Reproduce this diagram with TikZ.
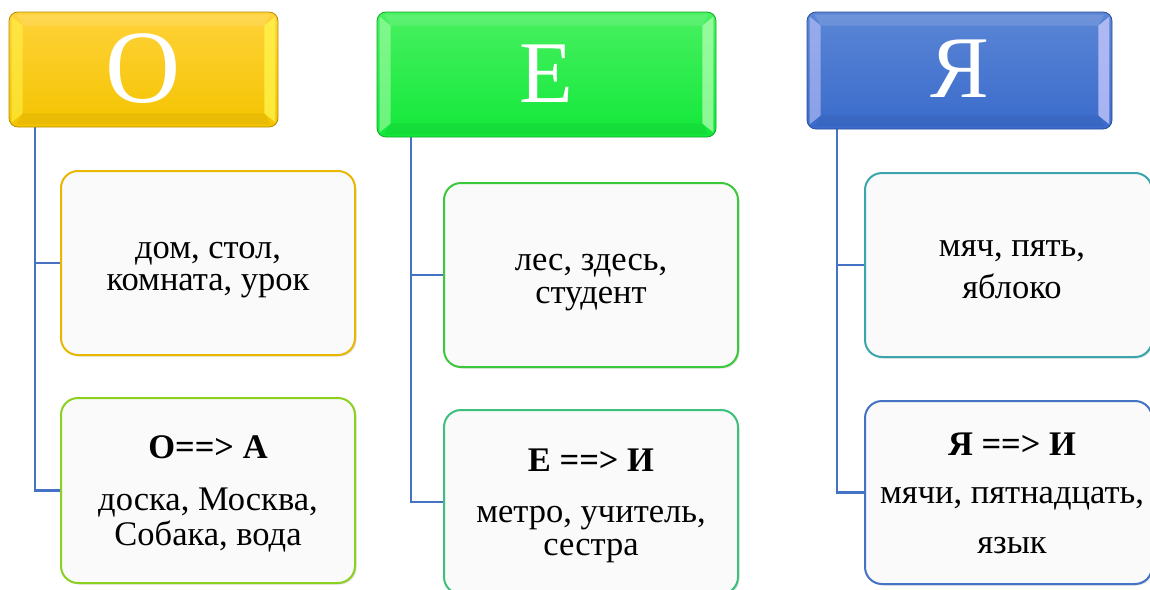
\documentclass[tikz,border=0pt]{standalone}
\usepackage{fontspec}
\setmainfont{Liberation Serif}
\usetikzlibrary{shadows}
\definecolor{linkblue}{HTML}{4472C4}
\definecolor{goldtop}{HTML}{FFD23A}
\definecolor{goldbot}{HTML}{F4C400}
\definecolor{goldline}{HTML}{B88E00}
\definecolor{greentop}{HTML}{48F060}
\definecolor{greenbot}{HTML}{12E83A}
\definecolor{greenline}{HTML}{10A82A}
\definecolor{bluetop}{HTML}{5B86D6}
\definecolor{bluebot}{HTML}{3A6BCB}
\definecolor{blueline}{HTML}{2A4F98}
\definecolor{bOa}{HTML}{E8B800}
\definecolor{bOb}{HTML}{8CD020}
\definecolor{bEa}{HTML}{3CC83C}
\definecolor{bEb}{HTML}{3CC07C}
\definecolor{bYa}{HTML}{3AA6AC}
\definecolor{bYb}{HTML}{4472C4}
\tikzset{
  hdr/.style={draw=#1, line width=0.8pt, rounded corners=9pt, inner sep=0pt, text=white},
  child/.style={draw=#1, line width=2pt, rounded corners=17pt, fill=white!98!black, inner sep=0pt,
    drop shadow={shadow xshift=1.5pt, shadow yshift=-1.5pt, opacity=0.25}},
  conn/.style={draw=linkblue, line width=2.6pt},
  ln/.style={anchor=base, inner sep=0pt, font=\fontsize{34.5}{40}\selectfont},
  lnb/.style={anchor=base, inner sep=0pt, font=\fontsize{34.5}{40}\selectfont\bfseries},
}
\newcommand{\bevel}[3]{%
  \fill[#2, opacity=0.55] ([xshift=3pt,yshift=-5pt]#1.north west) -- ([xshift=14pt,yshift=-14pt]#1.north west) -- ([xshift=14pt,yshift=14pt]#1.south west) -- ([xshift=3pt,yshift=5pt]#1.south west) -- cycle;
  \fill[#2, opacity=0.75] ([xshift=-3pt,yshift=-5pt]#1.north east) -- ([xshift=-14pt,yshift=-14pt]#1.north east) -- ([xshift=-14pt,yshift=14pt]#1.south east) -- ([xshift=-3pt,yshift=5pt]#1.south east) -- cycle;
  \fill[white, opacity=0.12] ([xshift=8pt,yshift=-3pt]#1.north west) -- ([xshift=-8pt,yshift=-3pt]#1.north east) -- ([xshift=-14pt,yshift=-14pt]#1.north east) -- ([xshift=14pt,yshift=-14pt]#1.north west) -- cycle;
  \fill[#3, opacity=0.18] ([xshift=8pt,yshift=3pt]#1.south west) -- ([xshift=-8pt,yshift=3pt]#1.south east) -- ([xshift=-14pt,yshift=14pt]#1.south east) -- ([xshift=14pt,yshift=14pt]#1.south west) -- cycle;
}
\begin{document}
\begin{tikzpicture}[x=1pt,y=-1pt]
\useasboundingbox (0,0) rectangle (1150,589);
\clip (0,0) rectangle (1150,589);
\fill[white] (0,0) rectangle (1150,589);

\coordinate (ot) at (35,127);
\coordinate (et) at (411,137);
\coordinate (yt) at (837,129);

% child boxes
\node[child=bOa, minimum width=294pt, minimum height=184pt] (o1) at (208,263) {};
\node[child=bOb, minimum width=294pt, minimum height=185pt] (o2) at (208,490.5) {};
\node[child=bEa, minimum width=294pt, minimum height=184pt] (e1) at (591,275) {};
\node[child=bEb, minimum width=294pt, minimum height=184pt] (e2) at (591,502) {};
\node[child=bYa, minimum width=287pt, minimum height=184pt] (y1) at (1008.5,265) {};
\node[child=bYb, minimum width=287pt, minimum height=183pt] (y2) at (1008.5,492.5) {};

\draw[conn] (ot) |- (o1.west);
\draw[conn] (ot) |- (o2.west);
\draw[conn] (et) |- (e1.west);
\draw[conn] (et) |- (e2.west);
\draw[conn] (yt) |- (y1.west);
\draw[conn] (yt) |- (y2.west);

% headers
\node[hdr=goldline, top color=goldtop, bottom color=goldbot, minimum width=269pt, minimum height=115pt] (ho) at (143.5,69.5) {};
\bevel{ho}{yellow!70!white}{goldline}
\node[text=white, inner sep=0pt, anchor=base, font=\fontsize{104}{104}\selectfont] (hot) at (143.5,102) {O};

\node[hdr=greenline, top color=greentop, bottom color=greenbot, minimum width=339pt, minimum height=125pt] (he) at (546.5,74.5) {};
\bevel{he}{green!30!white}{greenline}
\node[text=white, inner sep=0pt, anchor=base, font=\fontsize{88}{88}\selectfont] (het) at (546.5,102) {Е};

\node[hdr=blueline, top color=bluetop, bottom color=bluebot, minimum width=305pt, minimum height=117pt] (hy) at (959.5,70.5) {};
\bevel{hy}{blue!20!white}{blueline}
\node[text=white, inner sep=0pt, anchor=base, font=\fontsize{88}{88}\selectfont] (hyt) at (959.5,97) {Я};

% texts
\node[ln] (o1a) at (208,258) {дом, стол,};
\node[ln] (o1b) at (208,290) {комната, урок};
\node[lnb] (o2a) at (208,458) {О==> А};
\node[ln] (o2b) at (208,510) {доска, Москва,};
\node[ln] (o2c) at (208,545) {Собака, вода};

\node[ln] (e1a) at (591,270) {лес, здесь,};
\node[ln] (e1b) at (591,303) {студент};
\node[lnb] (e2a) at (591,471) {Е ==> И};
\node[ln] (e2b) at (591,522) {метро, учитель,};
\node[ln] (e2c) at (591,555) {сестра};

\node[ln] (y1a) at (1012,256) {мяч, пять,};
\node[ln] (y1b) at (1012,298) {яблоко};
\node[lnb] (y2a) at (1012,455) {Я ==> И};
\node[ln] (y2b) at (1012,503) {мячи, пятнадцать,};
\node[ln] (y2c) at (1012,553) {язык};
\end{tikzpicture}
\end{document}
